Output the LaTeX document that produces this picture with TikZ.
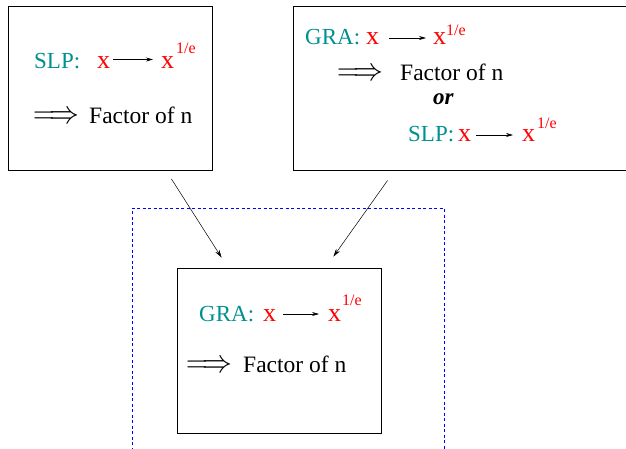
\documentclass[tikz,border=0pt]{standalone}
\usepackage{fontspec}
\setmainfont{Liberation Serif}
\usepackage{xcolor}
\usepackage{graphicx}
\usetikzlibrary{arrows.meta,calc}
\definecolor{figteal}{RGB}{0,144,144}
\newcommand{\implarr}{\scalebox{1.2}[1.3]{$\Longrightarrow$}}

\begin{document}
\begin{tikzpicture}[x=1pt,y=-1pt,
    lbl/.style={anchor=base west, inner sep=0pt, font=\fontsize{23.5}{27}\selectfont},
    alg/.style={lbl, text=figteal, font=\fontsize{23}{27}\selectfont},
    var/.style={lbl, text=red, font=\fontsize{26}{30}\selectfont},
    expo/.style={lbl, text=red, font=\fontsize{16}{18}\selectfont},
    maparr/.style={-{Stealth[length=7pt,width=4pt]}, line width=0.6pt},
    box/.style={draw, line width=0.8pt, inner sep=0pt},
    flow/.style={-{Stealth[length=8pt,width=4.5pt]}, line width=0.5pt}]
  \useasboundingbox (0,0) rectangle (626,448);

  % the three boxes
  \node[box, minimum width=204pt, minimum height=164pt] (slpbox) at (110,88.5) {};
  \node[box, minimum width=335pt, minimum height=164pt] (mixbox) at (460.5,88.5) {};
  \node[box, minimum width=204pt, minimum height=165pt] (grabox) at (279,350.5) {};
  \draw[blue, line width=0.6pt, dash pattern=on 3pt off 2.5pt] (132,456) -- (132,208) -- (444,208) -- (444,456);

  % left box
  \node[alg] (slpa) at (34,68) {SLP:};
  \node[var] (xa) at (97,68) {x};
  \node[var] (ya) at (161,68) {x};
  \node[expo] (ea) at (176,53) {1/e};
  \draw[maparr, shorten <=3pt, shorten >=8pt] ([yshift=8.5pt]xa.base east) -- ([yshift=8.5pt]ya.base west);
  \node[lbl] (ia) at (33,123) {\implarr};
  \node[lbl] (fa) at (89,123) {Factor of n};

  % right box
  \node[alg] (graa) at (305,44) {GRA:};
  \node[var] (xb) at (366,44) {x};
  \node[var] (yb) at (433,44) {x};
  \node[expo] (eb) at (446,35) {1/e};
  \draw[maparr, shorten <=10pt, shorten >=7pt] ([yshift=6pt]xb.base east) -- ([yshift=6pt]yb.base west);
  \node[lbl] (ib) at (337,80) {\implarr};
  \node[lbl] (fb) at (400,80) {Factor of n};
  \node[lbl, font=\fontsize{23}{27}\selectfont\bfseries\itshape] (orb) at (433,104) {or};
  \node[alg] (slpb) at (408,141) {SLP:};
  \node[var] (xc) at (458,141) {x};
  \node[var] (yc) at (522,141) {x};
  \node[expo] (ec) at (537,128) {1/e};
  \draw[maparr, shorten <=5pt, shorten >=9pt] ([yshift=6pt]xc.base east) -- ([yshift=6pt]yc.base west);

  % inner box
  \node[alg] (grac) at (199,321) {GRA:};
  \node[var] (xd) at (263,321) {x};
  \node[var] (yd) at (328,321) {x};
  \node[expo] (ed) at (342,305) {1/e};
  \draw[maparr, shorten <=7pt, shorten >=9pt] ([yshift=7pt]xd.base east) -- ([yshift=7pt]yd.base west);
  \node[lbl] (ic) at (186,372) {\implarr};
  \node[lbl] (fc) at (243,372) {Factor of n};

  \draw[flow] ($(slpbox.south east)+(-41,8)$) -- ($(grabox.north west)+(45,-10)$);
  \draw[flow] ($(mixbox.south west)+(95,9.5)$) -- ($(grabox.north east)+(-48,-11)$);
\end{tikzpicture}
\end{document}
